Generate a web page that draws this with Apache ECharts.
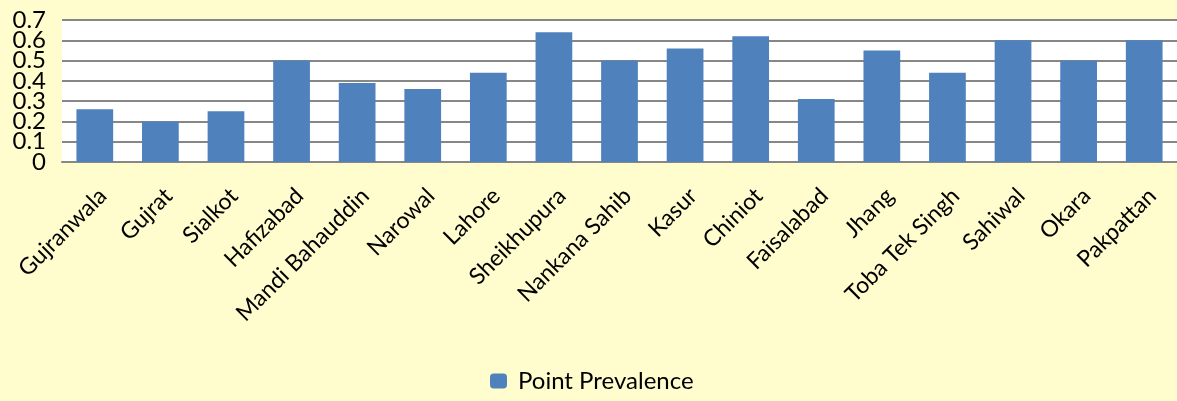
<!DOCTYPE html>
<html>
<head>
<meta charset="utf-8">
<script src="https://cdn.jsdelivr.net/npm/echarts@6/dist/echarts.min.js"></script>
<style>
  html, body { margin: 0; padding: 0; background: #FFFCCD; }
  #chart { width: 1177px; height: 401px; }
</style>
</head>
<body>
<div id="chart"></div>
<script>
// Districts of Punjab and their point prevalence
const districts = [
  'Gujranwala', 'Gujrat', 'Sialkot', 'Hafizabad', 'Mandi Bahauddin', 'Narowal',
  'Lahore', 'Sheikhupura', 'Nankana Sahib', 'Kasur', 'Chiniot', 'Faisalabad',
  'Jhang', 'Toba Tek Singh', 'Sahiwal', 'Okara', 'Pakpattan'
];
const pointPrevalence = [
  0.26, 0.20, 0.25, 0.50, 0.39, 0.36,
  0.44, 0.64, 0.50, 0.56, 0.62, 0.31,
  0.55, 0.44, 0.60, 0.50, 0.60
];
const seriesName = 'Point Prevalence';
const yTicks = { min: 0, max: 0.7, interval: 0.1 };

const fontFamily = 'Lato, "Open Sans", sans-serif';
const chart = echarts.init(document.getElementById('chart'), null, { renderer: 'canvas' });

// The tick labels sit closer together than their font height, so the
// even and odd ticks are labelled by two stacked value axes; each axis
// then never has two neighbouring labels that could collide.
const tickText = v => (Math.round(v * 10) / 10).toString();
const tickIndex = v => Math.round(v / yTicks.interval);
function valueAxis(parity, withGrid) {
  return {
    type: 'value',
    position: 'left',
    min: yTicks.min,
    max: yTicks.max,
    interval: yTicks.interval,
    axisLine: { show: false },
    axisTick: { show: false },
    splitLine: { show: withGrid, lineStyle: { color: '#878787', width: 2 } },
    axisLabel: {
      margin: 16,
      fontSize: 24,
      color: '#000',
      showMinLabel: true,
      showMaxLabel: true,
      formatter: v => (tickIndex(v) % 2 === parity ? tickText(v) : '')
    }
  };
}

chart.setOption({
  backgroundColor: '#FFFCCD',
  animation: false,
  textStyle: { fontFamily: fontFamily },
  grid: {
    left: 62,
    top: 20,
    width: 1124,
    bottom: 239,
    show: true,
    backgroundColor: '#ffffff',
    borderWidth: 0
  },
  legend: {
    data: [seriesName],
    bottom: 3,
    left: 485,
    itemWidth: 17,
    itemHeight: 15,
    textStyle: { fontSize: 24, color: '#000', fontFamily: fontFamily, padding: [0, 0, 0, 6] }
  },
  xAxis: {
    type: 'category',
    data: districts,
    axisLine: { show: true, lineStyle: { color: '#878787', width: 2 } },
    axisTick: { show: false },
    axisLabel: {
      interval: 0,
      rotate: 45,
      margin: 22,
      verticalAlign: 'top',
      fontSize: 23,
      color: '#000'
    }
  },
  yAxis: [valueAxis(0, true), valueAxis(1, false)],
  series: [{
    name: seriesName,
    type: 'bar',
    yAxisIndex: 0,
    data: pointPrevalence,
    barCategoryGap: '44%',
    itemStyle: { color: '#4F81BD' }
  }]
});
</script>
</body>
</html>
